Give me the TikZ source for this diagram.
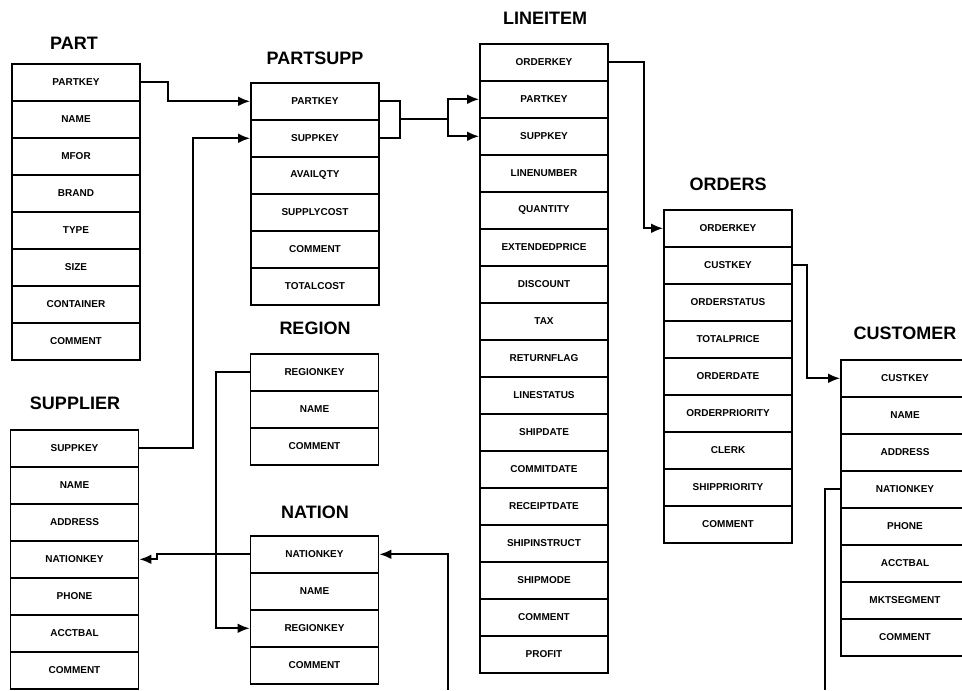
\documentclass[tikz,border=0pt]{standalone}
\usepackage{fontspec}
\setmainfont{Liberation Sans}
\usetikzlibrary{arrows.meta, positioning}

\begin{document}
\begin{tikzpicture}[x=0.5pt, y=-0.5pt,
  tabletitle/.style={font=\fontsize{9}{10}\selectfont\bfseries, inner sep=0pt},
  field/.style={draw, line width=0.8pt, fill=white, rectangle, anchor=north,
    minimum width=64pt, minimum height=18.5pt, inner sep=0pt,
    font=\fontsize{5}{6}\selectfont\bfseries},
  link/.style={line width=1pt},
  fklink/.style={link, -{Latex[length=6pt, width=4.8pt]}}
]
\useasboundingbox (0,0) rectangle (962,690);

% tables
\node[tabletitle] (part) at (74,43) {PART};
\foreach \f [count=\i] in {PARTKEY,NAME,MFOR,BRAND,TYPE,SIZE,CONTAINER,COMMENT}
  \node[field] (part-\i) at (76,{63+37*(\i-1)}) {\f};

\node[tabletitle] (partsupp) at (315,58) {PARTSUPP};
\foreach \f [count=\i] in {PARTKEY,SUPPKEY,AVAILQTY,SUPPLYCOST,COMMENT,TOTALCOST}
  \node[field] (ps-\i) at (315,{82+37*(\i-1)}) {\f};

\node[tabletitle] (supplier) at (75,403) {SUPPLIER};
\foreach \f [count=\i] in {SUPPKEY,NAME,ADDRESS,NATIONKEY,PHONE,ACCTBAL,COMMENT}
  \node[field] (supp-\i) at (74.5,{429+37*(\i-1)}) {\f};

\node[tabletitle] (region) at (315,328) {REGION};
\foreach \f [count=\i] in {REGIONKEY,NAME,COMMENT}
  \node[field] (reg-\i) at (314.5,{353+37*(\i-1)}) {\f};

\node[tabletitle] (nation) at (315,512) {NATION};
\foreach \f [count=\i] in {NATIONKEY,NAME,REGIONKEY,COMMENT}
  \node[field] (nat-\i) at (314.5,{535+37*(\i-1)}) {\f};

\node[tabletitle] (lineitem) at (545,18) {LINEITEM};
\foreach \f [count=\i] in {ORDERKEY,PARTKEY,SUPPKEY,LINENUMBER,QUANTITY,EXTENDEDPRICE,
    DISCOUNT,TAX,RETURNFLAG,LINESTATUS,SHIPDATE,COMMITDATE,RECEIPTDATE,
    SHIPINSTRUCT,SHIPMODE,COMMENT,PROFIT}
  \node[field] (li-\i) at (544,{43+37*(\i-1)}) {\f};

\node[tabletitle] (orders) at (728,184) {ORDERS};
\foreach \f [count=\i] in {ORDERKEY,CUSTKEY,ORDERSTATUS,TOTALPRICE,ORDERDATE,
    ORDERPRIORITY,CLERK,SHIPPRIORITY,COMMENT}
  \node[field] (ord-\i) at (728,{209+37*(\i-1)}) {\f};

\node[tabletitle] (customer) at (905,333) {CUSTOMER};
\foreach \f [count=\i] in {CUSTKEY,NAME,ADDRESS,NATIONKEY,PHONE,ACCTBAL,MKTSEGMENT,COMMENT}
  \node[field] (cust-\i) at (905,{359+37*(\i-1)}) {\f};

% join points and open ends
\coordinate (psjoin) at (400,119);
\coordinate (lijoin) at (448,119);
\coordinate (natup) at (448,690);
\coordinate (custdown) at (825,690);

% foreign keys
\draw[fklink] (part-1.east) -- ++(27,0) |- (ps-1.west);
\draw[fklink] (supp-1.east) -- ++(54,0) |- (ps-2.west);
\draw[link] (ps-1.east) -| (psjoin) |- (ps-2.east);
\draw[link] (psjoin) -- (lijoin);
\draw[fklink] (lijoin) |- (li-2.west);
\draw[fklink] (lijoin) |- (li-3.west);
\draw[fklink] (li-1.east) -- ++(35,0) |- (ord-1.west);
\draw[fklink] (ord-2.east) -- ++(14,0) |- (cust-1.west);
\draw[fklink] (reg-1.west) -- ++(-34,0) |- (nat-3.west);
\draw[fklink] (nat-1.west) -- ++(-93,0) |- (supp-4.east);
\draw[fklink] (natup) |- (nat-1.east);
\draw[link] (cust-4.west) -| (custdown);
\end{tikzpicture}
\end{document}
